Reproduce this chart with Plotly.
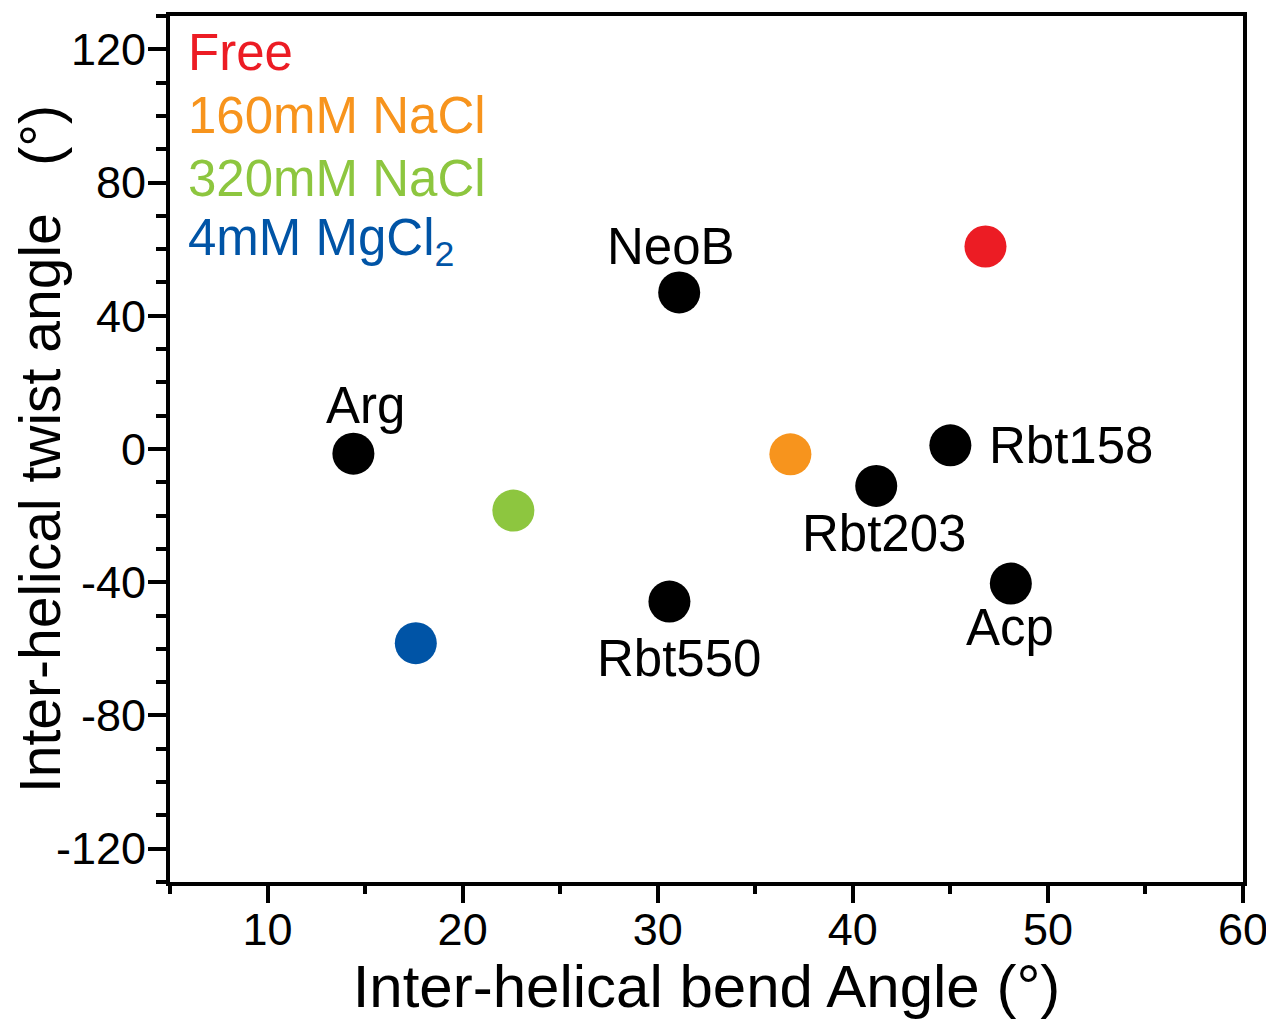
import plotly.graph_objects as go

# ---- data ----
ligands = ["NeoB", "Arg", "Rbt158", "Rbt203", "Rbt550", "Acp"]
lig_bend = [31.1, 14.4, 45.0, 41.2, 30.6, 48.1]
lig_twist = [47.0, -1.4, 1.1, -11.1, -45.8, -40.4]

conditions = ["Free", "160mM NaCl", "320mM NaCl", "4mM MgCl<sub>2</sub>"]
cond_bend = [46.8, 36.8, 22.6, 17.6]
cond_twist = [60.8, -1.6, -18.5, -58.3]
cond_colors = ["#EC1C24", "#F7941D", "#8DC63F", "#0054A6"]

x_ticks = [10, 20, 30, 40, 50, 60]
y_ticks = [-120, -80, -40, 0, 40, 80, 120]
y_ticktext = ["-120", "-80", "-40", "0", "40", "80", "120"]

# label offsets (px) relative to each ligand point
lab_shift = {
    "NeoB": (-8, 46),
    "Arg": (12, 48),
    "Rbt158": (121, 0),
    "Rbt203": (8, -48),
    "Rbt550": (10, -57),
    "Acp": (-1, -44),
}

FONT = "Arial, Liberation Sans, sans-serif"

fig = go.Figure()

fig.add_trace(go.Scatter(
    x=lig_bend, y=lig_twist, mode="markers",
    marker=dict(size=42, color="black", line=dict(width=0)),
    showlegend=False, hoverinfo="text", text=ligands,
))

fig.add_trace(go.Scatter(
    x=cond_bend, y=cond_twist, mode="markers",
    marker=dict(size=42, color=cond_colors, line=dict(width=0)),
    showlegend=False, hoverinfo="text", text=conditions,
))

for name, bx, ty in zip(ligands, lig_bend, lig_twist):
    dx, dy = lab_shift[name]
    fig.add_annotation(
        x=bx, y=ty, text=name, showarrow=False,
        xshift=dx, yshift=dy,
        font=dict(family=FONT, size=51, color="black"),
    )

# colored text legend
for i, (name, col) in enumerate(zip(conditions, cond_colors)):
    fig.add_annotation(
        xref="paper", yref="paper", x=0.0, y=1.0,
        xanchor="left", yanchor="middle",
        xshift=16, yshift=-36 - 63 * i,
        text=name, showarrow=False,
        font=dict(family=FONT, size=51, color=col),
    )

axis_common = dict(
    showline=True, linecolor="black", linewidth=4, mirror=True,
    showgrid=False, zeroline=False,
    ticks="outside", tickcolor="black", tickwidth=4,
    tickfont=dict(family=FONT, size=45, color="black"),
)

fig.update_xaxes(
    range=[5, 60], tickmode="array", tickvals=x_ticks,
    ticklen=17, ticklabelstandoff=-12,
    minor=dict(dtick=5, tick0=5, ticklen=8, tickwidth=4, tickcolor="black", ticks="outside"),
    title=dict(text="Inter-helical bend Angle (°)", standoff=48,
               font=dict(family=FONT, size=60, color="black")),
    **axis_common,
)
fig.update_yaxes(
    range=[-130, 130], tickmode="array", tickvals=y_ticks, ticktext=y_ticktext,
    ticklen=18, ticklabelstandoff=-7,
    minor=dict(dtick=10, tick0=0, ticklen=10, tickwidth=4, tickcolor="black", ticks="outside"),
    title=dict(text="Inter-helical twist angle\u00a0\u00a0\u00a0(°)", standoff=22,
               font=dict(family=FONT, size=57, color="black")),
    **axis_common,
)

fig.update_layout(
    width=1266, height=1012,
    margin=dict(l=162, r=31, t=8, b=138, autoexpand=False),
    plot_bgcolor="white", paper_bgcolor="white",
    showlegend=False,
)

fig.write_html("out.html")
